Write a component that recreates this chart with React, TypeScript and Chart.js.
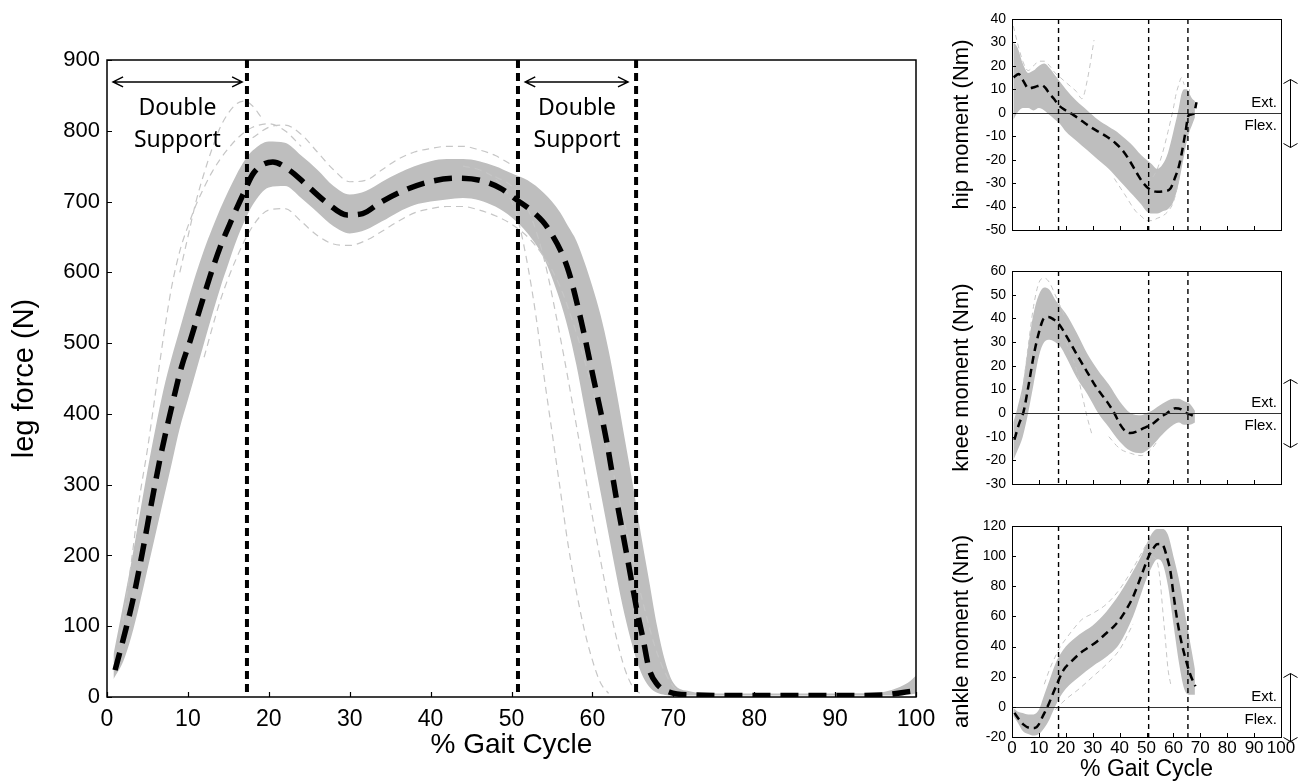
import React, { useEffect, useRef } from 'react';
import { Chart, registerables } from 'chart.js';
Chart.register(...registerables);

const SANS = '"Liberation Sans", Arial, Helvetica, sans-serif';
const LABEL_FONT = '"Noto Sans", "Open Sans", sans-serif';

// ---------- shared ----------
const PHASES = [17.3, 50.8, 65.4];
const X_TICKS_MIN = 0;
const X_TICKS_MAX = 100;

// ---------- main: leg force ----------
const FORCE_MEAN_X = [1.0, 2.2, 3.2, 4.5, 5.5, 6.6, 8.0, 9.2, 10.3, 11.5, 12.7, 14.0, 15.4, 16.9, 18.1, 20.5, 22.6, 24.7, 27.2, 29.7, 31.6, 33.7, 36.2, 39.5, 43.3, 46.1, 48.6, 50.7, 52.7, 54.4, 56.9, 58.5, 60.1, 61.8, 63.0, 64.3, 65.5, 66.3, 67.0, 68.0, 69.5, 72, 80, 90, 96, 99.3];
const FORCE_MEAN_Y = [38, 90, 137, 212, 274, 339, 410, 466, 504, 549, 593, 636, 674, 712, 740, 756, 744, 723, 698, 681, 683, 698, 713, 727, 733, 730, 719, 702, 685, 664, 607, 537, 452, 359, 278, 198, 123, 80, 40, 18, 7, 3, 2, 2, 3, 8];

const FORCE_BAND_X = [0.8, 2, 3, 4, 5, 6, 7, 8, 9, 10, 11, 12, 13, 14, 15, 16, 17, 18, 20, 22, 24, 26, 28, 30, 32, 34, 36, 38, 40, 42, 44, 46, 48, 50, 52, 54, 56, 57, 58, 59, 60, 61, 62, 63, 64, 65, 66, 67, 68, 69, 70, 72, 75, 80, 90, 95, 97, 99, 100];
const FORCE_BAND_HI = [60, 130, 190, 255, 320, 380, 435, 480, 520, 560, 598, 632, 662, 690, 715, 738, 758, 772, 785, 783, 765, 745, 722, 710, 715, 728, 740, 750, 757, 760, 760, 757, 750, 740, 730, 712, 685, 665, 645, 615, 580, 540, 490, 430, 365, 300, 230, 165, 100, 50, 20, 8, 5, 5, 5, 6, 10, 20, 30];
const FORCE_BAND_LO = [25, 50, 85, 130, 180, 230, 280, 330, 380, 420, 460, 500, 540, 578, 612, 645, 672, 695, 720, 722, 705, 685, 665, 655, 660, 672, 685, 695, 700, 703, 705, 702, 693, 678, 655, 620, 560, 520, 470, 410, 350, 290, 230, 170, 115, 70, 35, 15, 6, 3, 2, 2, 2, 2, 2, 2, 2, 3, 5];

const FORCE_T1_X = [1, 2, 3, 4, 5, 6, 7, 8, 9, 10, 11, 12, 13, 14, 15, 16, 17, 18, 20, 22, 24];
const FORCE_T1_Y = [40, 110, 190, 280, 350, 430, 510, 580, 630, 665, 695, 720, 742, 760, 775, 788, 798, 805, 810, 800, 778];
const FORCE_T2_X = [9, 10, 11, 12, 13, 14, 15, 16, 17, 18, 19];
const FORCE_T2_Y = [600, 650, 700, 740, 775, 805, 825, 838, 842, 835, 820];
const FORCE_T3_X = [12, 14, 16, 18, 20, 22, 24, 26, 28, 30, 32, 34, 36, 38, 40, 42, 44, 46, 48, 50, 52, 54, 56, 58, 60, 62, 64, 66, 68, 70, 72];
const FORCE_T3_Y = [480, 560, 620, 665, 688, 690, 672, 652, 640, 638, 645, 658, 672, 684, 690, 693, 693, 688, 680, 668, 650, 622, 580, 515, 435, 345, 245, 145, 62, 15, 3];
const FORCE_T4_X = [18, 20, 22, 24, 26, 28, 30, 32, 34, 36, 38, 40, 42, 44, 46, 48, 50];
const FORCE_T4_Y = [790, 805, 808, 795, 770, 745, 728, 730, 745, 760, 770, 775, 778, 778, 773, 765, 752];
const FORCE_T5_X = [44, 46, 48, 50, 51, 52, 53, 54, 55, 56, 57, 58, 59, 60, 61, 62];
const FORCE_T5_Y = [750, 745, 732, 700, 665, 610, 540, 455, 375, 295, 215, 150, 95, 52, 20, 5];
const FORCE_T6_X = [48, 50, 52, 54, 56, 58, 60, 62, 63, 64, 65, 66];
const FORCE_T6_Y = [735, 722, 690, 620, 510, 385, 255, 135, 82, 40, 14, 4];

// ---------- hip moment ----------
const HIP_MEAN_X = [0.6, 2.5, 4, 6.2, 8.5, 11, 12.5, 14, 15.5, 17.3, 20, 22.9, 26, 29.1, 32, 35.3, 38.5, 41.5, 44, 46.5, 48.5, 50.8, 53.9, 56.5, 58.9, 60.5, 62, 63.3, 64.4, 65.7, 67.5, 68.6];
const HIP_MEAN_Y = [15.1, 16.5, 14, 10.4, 11, 11.8, 10.5, 8, 6.1, 3.3, 1, -1, -3.5, -6, -8, -10.2, -13, -16.6, -21, -25.9, -29.5, -32.3, -33.7, -33.5, -32.3, -28, -23, -16, -8.8, -1, -0.5, 4.5];
const HIP_BAND_X = [0.5, 2, 4, 6, 8, 10, 12, 14, 16, 18, 20, 24, 28, 32, 36, 40, 44, 48, 50, 52, 54, 56, 58, 60, 62, 63, 64, 65, 66, 67, 68];
const HIP_BAND_HI = [30, 28, 21, 17, 18, 20, 21, 19, 16, 13, 10, 5, 1, -3, -6, -9, -13, -18, -20, -22, -24, -22, -17, -8, 2, 8, 10, 10, 8, 6, 5];
const HIP_BAND_LO = [-3, 0, 2, 2, 1, 2, 1, -1, -3, -5, -8, -12, -16, -20, -24, -29, -34, -39, -42, -43, -43, -42, -41, -38, -30, -24, -18, -12, -8, -5, -2];
const HIP_T1_X = [0.5, 2, 4, 6, 8, 10, 12, 14, 16, 18, 20, 22, 24, 26, 28, 30.5];
const HIP_T1_Y = [37, 30, 22, 18, 20, 22, 22, 20, 17, 15, 13, 11, 9, 6, 14, 31];
const HIP_T2_X = [38, 42, 46, 48, 50, 52, 54, 56, 58, 60, 62, 63, 64, 65, 66];
const HIP_T2_Y = [-28, -35, -42, -44, -46, -46, -45, -44, -42, -38, -28, -18, -8, 2, 10];
const HIP_T3_X = [50, 52, 54, 56, 58, 60, 61, 62, 63, 64];
const HIP_T3_Y = [-30, -28, -24, -17, -8, 2, 8, 12, 15, 12];

// ---------- knee moment ----------
const KNEE_MEAN_X = [0.9, 2.5, 4.3, 6.2, 8.1, 10, 11.8, 13.6, 15.5, 17.3, 20.4, 24.2, 27.9, 31.6, 35.3, 38, 40.3, 42, 44, 46.5, 48.9, 52.6, 55, 57.6, 60.7, 63, 65, 67, 68.8];
const KNEE_MEAN_Y = [-11.3, -5, 0.6, 12, 24.5, 34, 39.9, 40.6, 39.5, 37.8, 32.2, 24.5, 17.4, 10.4, 4.8, 0, -5, -7.5, -8.5, -7.8, -6.4, -4.3, -2, -0.1, 2, 1.5, -0.1, -1, -2.2];
const KNEE_BAND_X = [0.5, 2, 4, 6, 8, 10, 12, 14, 16, 18, 20, 24, 28, 32, 36, 40, 44, 48, 50, 52, 56, 60, 62, 64, 66, 68];
const KNEE_BAND_HI = [-4, 2, 12, 28, 42, 50, 53, 52, 48, 45, 42, 34, 25, 18, 12, 5, 0, -1, 0, 1, 4, 6, 6, 5, 4, 1];
const KNEE_BAND_LO = [-20, -16, -10, 0, 12, 24, 30, 31, 30, 28, 24, 15, 8, 0, -6, -12, -16, -17, -16, -14, -9, -5, -4, -5, -5, -4];
const KNEE_T1_X = [2, 4, 6, 8, 10, 12, 14, 16, 18, 20];
const KNEE_T1_Y = [-5, 10, 28, 45, 55, 57, 55, 50, 45, 40];
const KNEE_T2_X = [20, 22, 24, 26, 28, 29.7];
const KNEE_T2_Y = [30, 25, 18, 8, -2, -9];
const KNEE_T3_X = [36, 40, 44, 48, 50, 52, 54];
const KNEE_T3_Y = [-10, -15, -17, -18, -17, -15, -12];

// ---------- ankle moment ----------
const ANKLE_MEAN_X = [0.9, 2.5, 4.3, 6.8, 8.5, 9.9, 11.5, 13, 16.1, 19.2, 22, 25.4, 28.5, 31.6, 34.5, 37.8, 40.5, 42.8, 45, 47.7, 50.8, 52.5, 53.9, 55.5, 56.4, 57.5, 58.9, 60, 61.3, 62.5, 63.8, 66.3, 68.2];
const ANKLE_MEAN_Y = [-4, -8, -11.8, -14, -14, -11.8, -6, -0.75, 12.5, 24.6, 30, 35.7, 39.5, 43.4, 48, 53.3, 59, 65.5, 73, 85.3, 99.7, 105, 107.9, 108, 106.3, 100, 89.8, 75, 58.9, 47, 36.8, 21.3, 13.6];
const ANKLE_BAND_X = [0.5, 2, 4, 6, 8, 10, 12, 14, 16, 18, 20, 25, 30, 35, 40, 45, 48, 50, 52, 54, 56, 58, 60, 62, 64, 66, 68];
const ANKLE_BAND_HI = [-1, -3, -4, -5, -5, -2, 8, 18, 28, 35, 40, 48, 54, 63, 75, 90, 100, 108, 115, 118, 118, 114, 100, 85, 65, 45, 25];
const ANKLE_BAND_LO = [-6, -10, -16, -18, -19, -18, -14, -8, 0, 7, 12, 20, 27, 33, 42, 60, 75, 85, 93, 98, 95, 80, 55, 30, 12, 8, 8];
const ANKLE_T1_X = [12, 14, 16, 18, 20, 23, 26, 30, 35, 40, 45, 50];
const ANKLE_T1_Y = [15, 25, 33, 40, 45, 52, 58, 62, 68, 78, 92, 108];
const ANKLE_T2_X = [52, 54, 55, 56, 57, 58, 59];
const ANKLE_T2_Y = [100, 96, 85, 65, 45, 25, 15];
const ANKLE_T3_X = [16, 20, 25, 30, 35, 40, 45];
const ANKLE_T3_Y = [-2, 5, 12, 20, 28, 38, 55];

const GRAY_BAND = '#bebebe';
const GRAY_TRACE = '#c6c6c6';

type Series = { x: number[]; y: number[] };
type PanelData = {
  meanX: number[]; meanY: number[];
  bandX: number[]; bandHi: number[]; bandLo: number[];
  traces: Series[];
};

function line(xs: number[], ys: number[], opts: any) {
  return {
    data: xs.map((x, i) => ({ x, y: ys[i] })),
    pointRadius: 0,
    fill: false,
    cubicInterpolationMode: 'monotone',
    ...opts,
  };
}

function buildDatasets(p: PanelData, meanW: number, meanDash: number[], traceW: number, traceDash: number[]) {
  const ds: any[] = [];
  ds.push(line(p.bandX, p.bandHi, { borderColor: 'rgba(0,0,0,0)', borderWidth: 1, order: 3 }));
  ds.push(line(p.bandX, p.bandLo, { borderColor: 'rgba(0,0,0,0)', borderWidth: 1, backgroundColor: GRAY_BAND, fill: '-1', order: 3 }));
  p.traces.forEach((t) => ds.push(line(t.x, t.y, { borderColor: GRAY_TRACE, borderWidth: traceW, borderDash: traceDash, order: 2 })));
  ds.push(line(p.meanX, p.meanY, { borderColor: '#000', borderWidth: meanW, borderDash: meanDash, order: 0 }));
  return ds;
}

function arrowH(ctx: CanvasRenderingContext2D, x1: number, x2: number, y: number, hw: number, hh: number) {
  ctx.beginPath();
  ctx.moveTo(x1, y); ctx.lineTo(x2, y);
  ctx.moveTo(x1 + hw, y - hh); ctx.lineTo(x1, y); ctx.lineTo(x1 + hw, y + hh);
  ctx.moveTo(x2 - hw, y - hh); ctx.lineTo(x2, y); ctx.lineTo(x2 - hw, y + hh);
  ctx.stroke();
}
function arrowV(ctx: CanvasRenderingContext2D, x: number, y1: number, y2: number, hw: number, hh: number) {
  ctx.beginPath();
  ctx.moveTo(x, y1); ctx.lineTo(x, y2);
  ctx.moveTo(x - hw, y1 + hh); ctx.lineTo(x, y1); ctx.lineTo(x + hw, y1 + hh);
  ctx.moveTo(x - hw, y2 - hh); ctx.lineTo(x, y2); ctx.lineTo(x + hw, y2 - hh);
  ctx.stroke();
}

function insideTicks(chart: any, len: number, lw: number) {
  const { ctx, chartArea: a, scales } = chart;
  ctx.save();
  ctx.strokeStyle = '#000';
  ctx.lineWidth = lw;
  ctx.setLineDash([]);
  ctx.beginPath();
  scales.x.ticks.forEach((t: any) => {
    const px = Math.round(scales.x.getPixelForValue(t.value)) + 0.5;
    ctx.moveTo(px, a.bottom); ctx.lineTo(px, a.bottom - len);
  });
  scales.y.ticks.forEach((t: any) => {
    const py = Math.round(scales.y.getPixelForValue(t.value)) + 0.5;
    ctx.moveTo(a.left, py); ctx.lineTo(a.left + len, py);
  });
  ctx.stroke();
  ctx.restore();
}

const mainDeco = {
  id: 'mainDeco',
  afterDatasetsDraw(chart: any) {
    const { ctx, chartArea: a, scales } = chart;
    const { x, y } = scales;
    ctx.save();
    ctx.strokeStyle = '#000';
    ctx.lineWidth = 4;
    ctx.setLineDash([8, 5]);
    PHASES.forEach((v) => {
      const px = x.getPixelForValue(v);
      ctx.beginPath(); ctx.moveTo(px, a.top); ctx.lineTo(px, a.bottom); ctx.stroke();
    });
    ctx.setLineDash([]);
    ctx.lineWidth = 1.5;
    ctx.strokeRect(a.left, a.top, a.right - a.left, a.bottom - a.top);
    ctx.restore();
    insideTicks(chart, 5, 1.2);

    ctx.save();
    ctx.strokeStyle = '#000';
    ctx.lineWidth = 1.5;
    const ay = y.getPixelForValue(869);
    arrowH(ctx, x.getPixelForValue(0.75), x.getPixelForValue(16.7), ay, 10, 5);
    arrowH(ctx, x.getPixelForValue(51.7), x.getPixelForValue(64.4), ay, 10, 5);
    ctx.fillStyle = '#000';
    ctx.font = `23px ${LABEL_FONT}`;
    ctx.textAlign = 'center';
    ctx.textBaseline = 'middle';
    const t1 = y.getPixelForValue(832);
    const t2 = y.getPixelForValue(787);
    ctx.fillText('Double', x.getPixelForValue(8.7), t1);
    ctx.fillText('Support', x.getPixelForValue(8.7), t2);
    ctx.fillText('Double', x.getPixelForValue(58.1), t1);
    ctx.fillText('Support', x.getPixelForValue(58.1), t2);
    ctx.restore();
  },
};

const smallDeco = (arrowHalf: number) => ({
  id: 'smallDeco',
  afterDatasetsDraw(chart: any) {
    const { ctx, chartArea: a, scales } = chart;
    const { x, y } = scales;
    const zy = Math.round(y.getPixelForValue(0)) + 0.5;
    ctx.save();
    ctx.strokeStyle = '#333';
    ctx.lineWidth = 1;
    ctx.beginPath(); ctx.moveTo(a.left, zy); ctx.lineTo(a.right, zy); ctx.stroke();
    ctx.strokeStyle = '#000';
    ctx.lineWidth = 1.4;
    ctx.setLineDash([5, 4]);
    PHASES.forEach((v) => {
      const px = x.getPixelForValue(v);
      ctx.beginPath(); ctx.moveTo(px, a.top); ctx.lineTo(px, a.bottom); ctx.stroke();
    });
    ctx.setLineDash([]);
    ctx.lineWidth = 1;
    ctx.strokeRect(a.left + 0.5, a.top + 0.5, a.right - a.left, a.bottom - a.top);
    ctx.restore();
    insideTicks(chart, 4, 1);

    ctx.save();
    ctx.fillStyle = '#000';
    ctx.font = `15px ${SANS}`;
    ctx.textAlign = 'right';
    ctx.textBaseline = 'middle';
    ctx.fillText('Ext.', a.right - 4, zy - 11);
    ctx.fillText('Flex.', a.right - 4, zy + 12);
    ctx.strokeStyle = '#000';
    ctx.lineWidth = 1;
    arrowV(ctx, a.right + 9.5, zy - arrowHalf, zy + arrowHalf, 7, 4);
    ctx.restore();
  },
});

type Spec = {
  yMin: number; yMax: number; yStep: number;
  yTitle: string; xTitle?: string; showXLabels: boolean;
  yAxisW: number; xAxisH: number; padTop: number; padRight: number;
  tickSize: number; xTickSize: number; yTitleSize: number; xTitleSize: number;
  yTickPad: number; yTitlePad: number; xTickPad: number; xTitlePadBottom: number;
  datasets: any[]; plugin: any;
};

function makeChart(canvas: HTMLCanvasElement, s: Spec) {
  return new Chart(canvas, {
    type: 'line',
    data: { datasets: s.datasets },
    options: {
      responsive: false,
      animation: false,
      devicePixelRatio: 1,
      layout: { padding: { top: s.padTop, right: s.padRight, left: 0, bottom: 0 } },
      plugins: { legend: { display: false }, tooltip: { enabled: false } },
      scales: {
        x: {
          type: 'linear',
          min: X_TICKS_MIN,
          max: X_TICKS_MAX,
          grid: { display: false, drawTicks: false },
          border: { display: false },
          ticks: {
            stepSize: 10,
            display: s.showXLabels,
            autoSkip: false,
            maxRotation: 0,
            color: '#000',
            padding: s.xTickPad,
            font: { family: SANS, size: s.xTickSize, lineHeight: 1 },
          },
          title: {
            display: !!s.xTitle,
            text: s.xTitle || '',
            color: '#000',
            font: { family: SANS, size: s.xTitleSize, lineHeight: 1 },
            padding: { top: 0, bottom: s.xTitlePadBottom },
          },
          afterFit: (sc: any) => {
            sc.height = s.xAxisH;
            sc.paddingLeft = 0; sc.paddingRight = 0; sc.paddingTop = 0; sc.paddingBottom = 0;
          },
        },
        y: {
          type: 'linear',
          min: s.yMin,
          max: s.yMax,
          grid: { display: false, drawTicks: false },
          border: { display: false },
          ticks: {
            stepSize: s.yStep,
            autoSkip: false,
            color: '#000',
            padding: s.yTickPad,
            font: { family: SANS, size: s.tickSize },
          },
          title: {
            display: true,
            text: s.yTitle,
            color: '#000',
            font: { family: SANS, size: s.yTitleSize, lineHeight: 1.2 },
            padding: { top: s.yTitlePad, bottom: 0 },
          },
          afterFit: (sc: any) => {
            sc.width = s.yAxisW;
            sc.paddingLeft = 0; sc.paddingRight = 0; sc.paddingTop = 0; sc.paddingBottom = 0;
          },
        },
      },
    } as any,
    plugins: [s.plugin],
  });
}

const forceData: PanelData = {
  meanX: FORCE_MEAN_X, meanY: FORCE_MEAN_Y,
  bandX: FORCE_BAND_X, bandHi: FORCE_BAND_HI, bandLo: FORCE_BAND_LO,
  traces: [
    { x: FORCE_T1_X, y: FORCE_T1_Y }, { x: FORCE_T2_X, y: FORCE_T2_Y }, { x: FORCE_T3_X, y: FORCE_T3_Y },
    { x: FORCE_T4_X, y: FORCE_T4_Y }, { x: FORCE_T5_X, y: FORCE_T5_Y }, { x: FORCE_T6_X, y: FORCE_T6_Y },
  ],
};
const hipData: PanelData = {
  meanX: HIP_MEAN_X, meanY: HIP_MEAN_Y, bandX: HIP_BAND_X, bandHi: HIP_BAND_HI, bandLo: HIP_BAND_LO,
  traces: [{ x: HIP_T1_X, y: HIP_T1_Y }, { x: HIP_T2_X, y: HIP_T2_Y }, { x: HIP_T3_X, y: HIP_T3_Y }],
};
const kneeData: PanelData = {
  meanX: KNEE_MEAN_X, meanY: KNEE_MEAN_Y, bandX: KNEE_BAND_X, bandHi: KNEE_BAND_HI, bandLo: KNEE_BAND_LO,
  traces: [{ x: KNEE_T1_X, y: KNEE_T1_Y }, { x: KNEE_T2_X, y: KNEE_T2_Y }, { x: KNEE_T3_X, y: KNEE_T3_Y }],
};
const ankleData: PanelData = {
  meanX: ANKLE_MEAN_X, meanY: ANKLE_MEAN_Y, bandX: ANKLE_BAND_X, bandHi: ANKLE_BAND_HI, bandLo: ANKLE_BAND_LO,
  traces: [{ x: ANKLE_T1_X, y: ANKLE_T1_Y }, { x: ANKLE_T2_X, y: ANKLE_T2_Y }, { x: ANKLE_T3_X, y: ANKLE_T3_Y }],
};

export default function App() {
  const mainRef = useRef<HTMLCanvasElement>(null);
  const hipRef = useRef<HTMLCanvasElement>(null);
  const kneeRef = useRef<HTMLCanvasElement>(null);
  const ankleRef = useRef<HTMLCanvasElement>(null);

  useEffect(() => {
    const small = {
      yAxisW: 72, padRight: 26, tickSize: 14, xTickSize: 17, yTitleSize: 22, xTitleSize: 23,
      yTickPad: 6, yTitlePad: 9, xTickPad: 3, xTitlePadBottom: 0,
    };
    const charts = [
      makeChart(mainRef.current!, {
        yMin: 0, yMax: 900, yStep: 100, yTitle: 'leg force (N)', xTitle: '% Gait Cycle', showXLabels: true,
        yAxisW: 107, xAxisH: 84, padTop: 60, padRight: 19, tickSize: 22, xTickSize: 23, yTitleSize: 29, xTitleSize: 28,
        yTickPad: 7, yTitlePad: 8, xTickPad: 11, xTitlePadBottom: 22,
        datasets: buildDatasets(forceData, 5.5, [18, 10], 1.2, [7, 5]),
        plugin: mainDeco,
      }),
      makeChart(hipRef.current!, {
        ...small, yMin: -50, yMax: 40, yStep: 10, yTitle: 'hip moment (Nm)', showXLabels: false,
        xAxisH: 22, padTop: 19,
        datasets: buildDatasets(hipData, 2.5, [8, 5], 1, [5, 4]),
        plugin: smallDeco(34),
      }),
      makeChart(kneeRef.current!, {
        ...small, yMin: -30, yMax: 60, yStep: 10, yTitle: 'knee moment (Nm)', showXLabels: false,
        xAxisH: 16, padTop: 19,
        datasets: buildDatasets(kneeData, 2.5, [8, 5], 1, [5, 4]),
        plugin: smallDeco(34),
      }),
      makeChart(ankleRef.current!, {
        ...small, yMin: -20, yMax: 120, yStep: 20, yTitle: 'ankle moment (Nm)', xTitle: '% Gait Cycle', showXLabels: true,
        xAxisH: 44, padTop: 26,
        datasets: buildDatasets(ankleData, 2.5, [8, 5], 1, [5, 4]),
        plugin: smallDeco(34),
      }),
    ];
    return () => charts.forEach((c) => c.destroy());
  }, []);

  const cv = (left: number, top: number, w: number, h: number) => ({
    position: 'absolute' as const, left, top, width: w, height: h,
  });

  return (
    <div style={{ position: 'fixed', left: 0, top: 0, width: 1307, height: 781, background: '#fff', overflow: 'hidden' }}>
      <canvas ref={mainRef} width={935} height={781} style={cv(0, 0, 935, 781)} />
      <canvas ref={hipRef} width={367} height={252} style={cv(940, 0, 367, 252)} />
      <canvas ref={kneeRef} width={367} height={248} style={cv(940, 252, 367, 248)} />
      <canvas ref={ankleRef} width={367} height={281} style={cv(940, 500, 367, 281)} />
    </div>
  );
}
